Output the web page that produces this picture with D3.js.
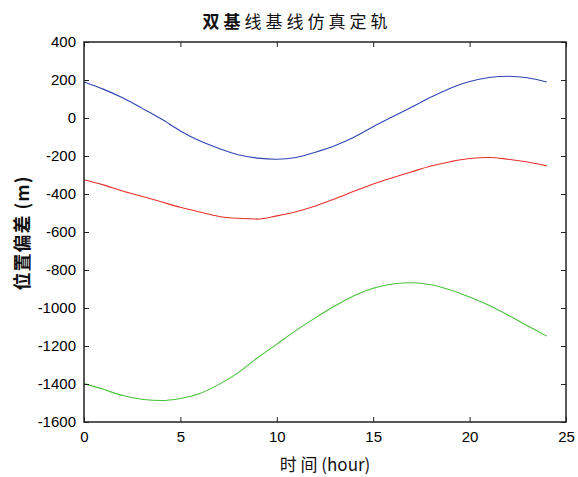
<!DOCTYPE html>
<html><head><meta charset="utf-8">
<script src="https://cdn.jsdelivr.net/npm/d3@7"></script>
<style>body{margin:0;background:#fff}svg{display:block}</style>
</head><body>
<script>
const hours = [0,1,2,3,4,5,6,7,8,9,10,11,12,13,14,15,16,17,18,19,20,21,22,23,24];
const blueVals = [190,152,106,52,-4,-68,-120,-160,-193,-211,-217,-208,-180,-146,-101,-46,6,58,110,157,192,213,220,212,189];
const redVals = [-325,-352,-384,-412,-441,-470,-495,-518,-528,-532,-515,-493,-463,-426,-386,-347,-314,-283,-253,-230,-213,-208,-217,-232,-252];
const greenVals = [-1398,-1428,-1461,-1480,-1487,-1476,-1450,-1402,-1340,-1262,-1190,-1118,-1052,-990,-935,-896,-874,-867,-878,-905,-942,-986,-1038,-1093,-1148];
const xTicks = [0,5,10,15,20,25];
const yTicks = [-1600,-1400,-1200,-1000,-800,-600,-400,-200,0,200,400];
const titleBold = "双基";
const titleRest = "线基线仿真定轨";
const xLabel = "时 间 (hour)";
const yLabel = "位置偏差 (m)";

(function(){
const W = 578, H = 477;
const L = 84, R = 566, T = 42, B = 422;
const svg = d3.select("body").append("svg").attr("width", W).attr("height", H);
const x = d3.scaleLinear().domain([0,25]).range([L,R]);
const y = d3.scaleLinear().domain([-1600,400]).range([B,T]);
const font = "'Liberation Sans', Arial, 'Noto Sans CJK SC', sans-serif";

const line = d3.line().x((d,i)=>x(hours[i])).y(d=>y(d)).curve(d3.curveMonotoneX);
const series = [[blueVals,"#2f44b4"],[redVals,"#e8302a"],[greenVals,"#49c23a"]];
series.forEach(([vals,c])=>{
  svg.append("path").datum(vals).attr("d", line).attr("fill","none").attr("stroke",c).attr("stroke-width",1.1);
});

const ax = (g, axis) => {
  g.call(axis);
  g.select(".domain").remove();
  g.selectAll(".tick line").attr("stroke","#222").attr("stroke-width",1);
};
const tl = 5;
const fmt = d => String(d);
const gBottom = svg.append("g").attr("transform",`translate(0,${B})`);
ax(gBottom, d3.axisBottom(x).tickValues(xTicks).tickSizeInner(-tl).tickSizeOuter(0).tickPadding(9).tickFormat(fmt));
const gTop = svg.append("g").attr("transform",`translate(0,${T})`);
ax(gTop, d3.axisTop(x).tickValues(xTicks).tickSizeInner(-tl).tickSizeOuter(0).tickFormat(""));
const gLeft = svg.append("g").attr("transform",`translate(${L},0)`);
ax(gLeft, d3.axisLeft(y).tickValues(yTicks).tickSizeInner(-tl).tickSizeOuter(0).tickPadding(8).tickFormat(fmt));
const gRight = svg.append("g").attr("transform",`translate(${R},0)`);
ax(gRight, d3.axisRight(y).tickValues(yTicks).tickSizeInner(-tl).tickSizeOuter(0).tickFormat(""));
svg.selectAll(".tick text").attr("font-family",font).attr("font-size",15).attr("fill","#000");

svg.append("rect").attr("x",L).attr("y",T).attr("width",R-L).attr("height",B-T)
  .attr("fill","none").attr("stroke","#222").attr("stroke-width",1.5);

const title = svg.append("text").attr("x",297).attr("y",28).attr("text-anchor","middle")
  .attr("font-family","'Noto Sans CJK SC', sans-serif").attr("font-size",17)
  .attr("letter-spacing",4).attr("fill","#111");
title.append("tspan").attr("font-weight",700).text(titleBold);
title.append("tspan").attr("font-weight",400).text(titleRest);
svg.append("text").attr("x",325).attr("y",471).attr("text-anchor","middle")
  .attr("font-family","'Noto Sans CJK SC', 'Liberation Sans', sans-serif").attr("font-size",17)
  .attr("fill","#111").text(xLabel);
svg.append("text").attr("transform",`translate(29,233) rotate(-90)`).attr("text-anchor","middle")
  .attr("font-family","'Noto Sans CJK SC', 'Liberation Sans', sans-serif").attr("font-size",18).attr("font-weight",700)
  .attr("letter-spacing",1).attr("fill","#111").text(yLabel);
})();
</script>
</body></html>
